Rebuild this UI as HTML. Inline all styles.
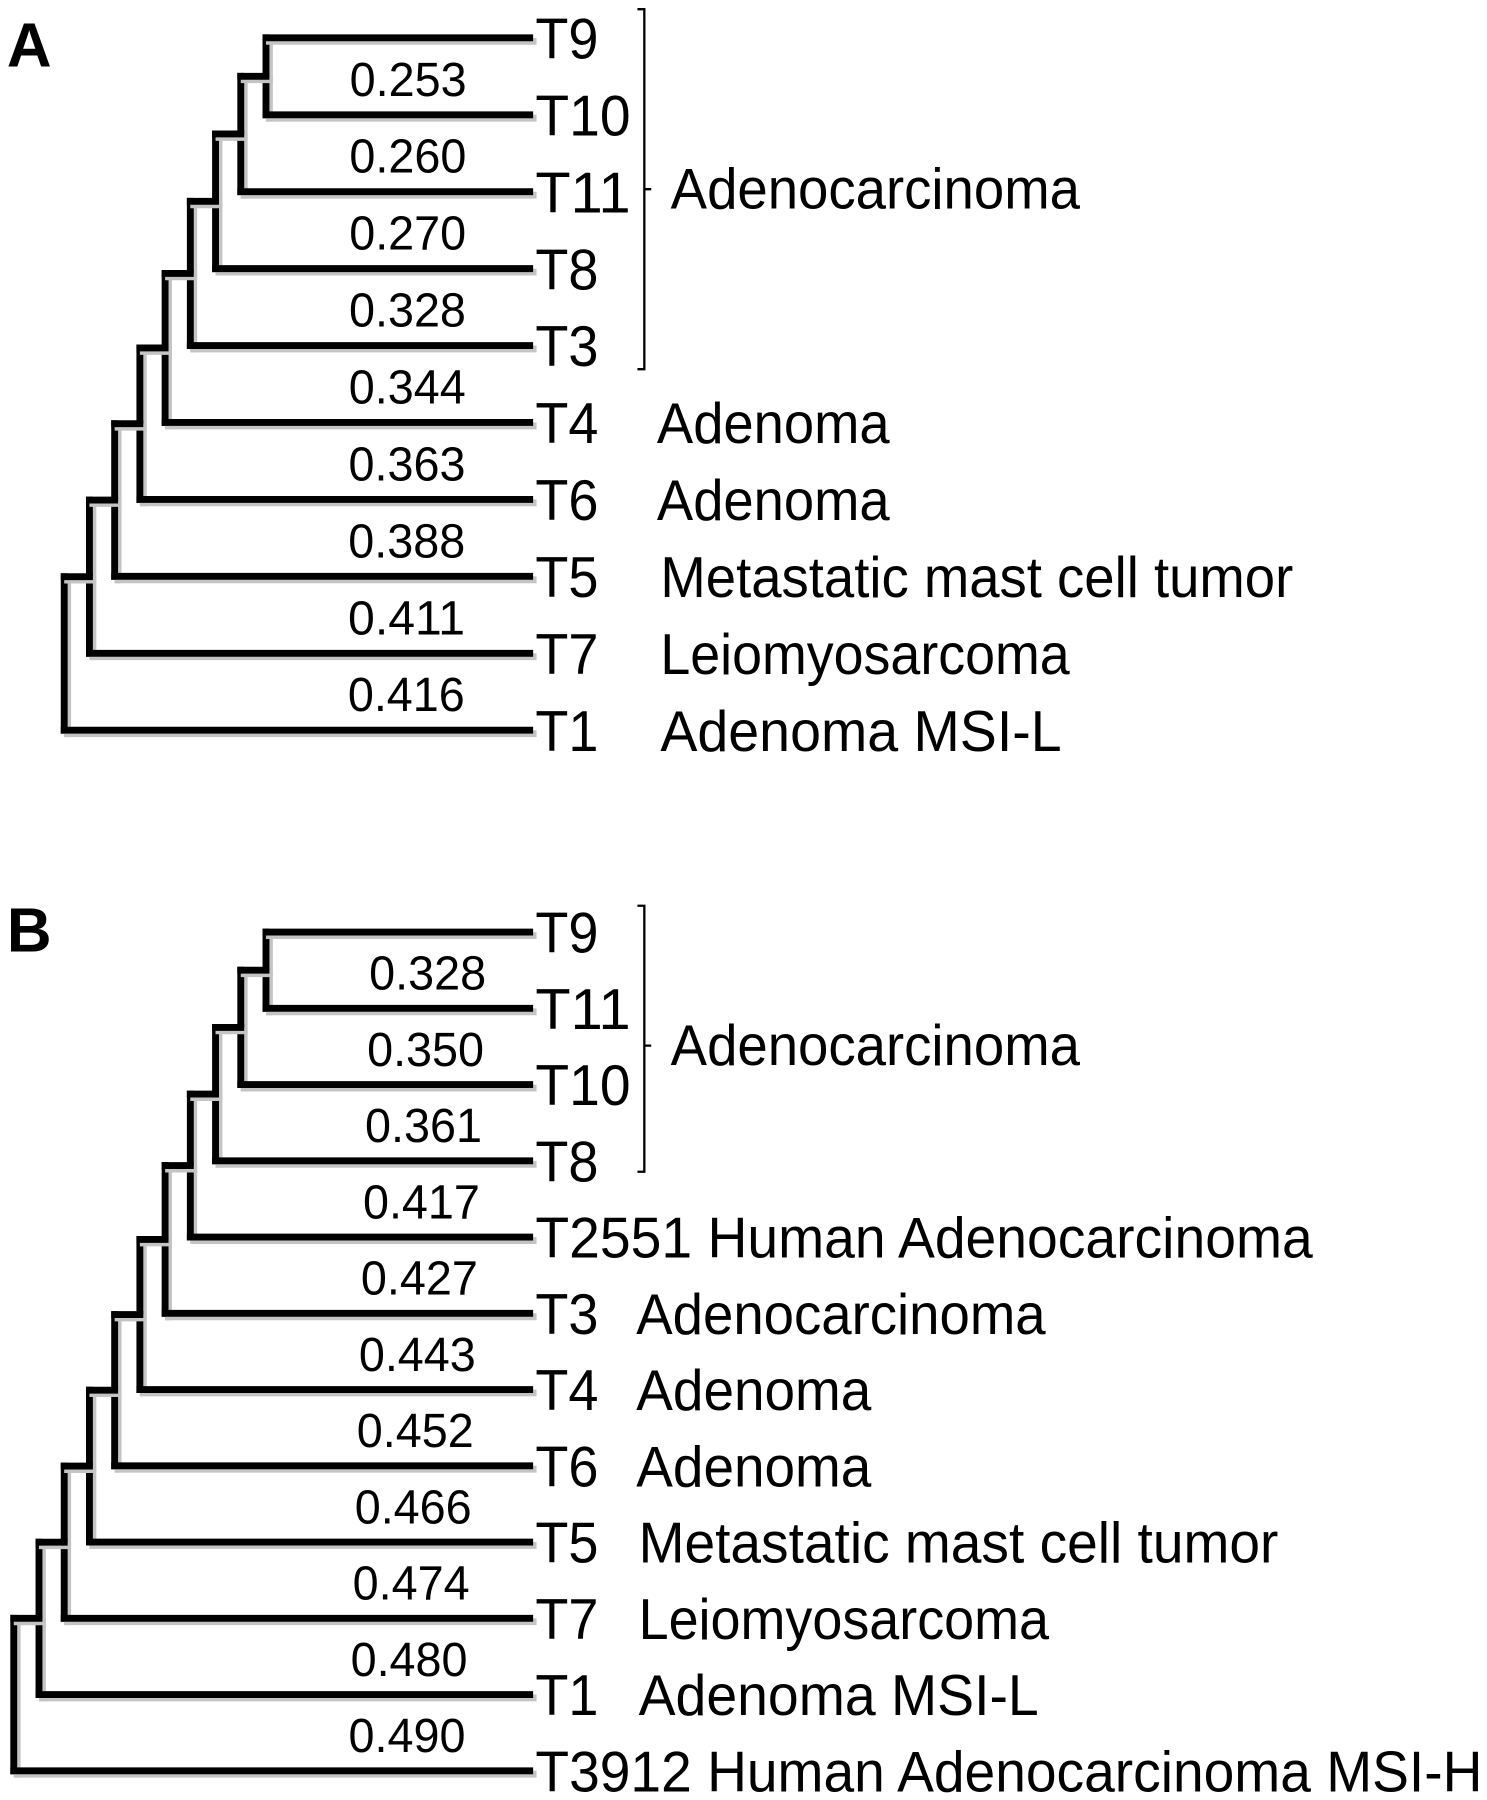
<!DOCTYPE html>
<html><head><meta charset="utf-8"><style>
html,body{margin:0;padding:0;background:#fff;}
svg{display:block;}
text{font-family:"Liberation Sans",sans-serif;fill:#000;}
</style></head><body>
<svg id="fig" width="1487" height="1800" viewBox="0 0 1297 1570" preserveAspectRatio="none" xmlns="http://www.w3.org/2000/svg">
<text x="6" y="58" font-size="54" font-weight="bold">A</text>
<text x="6" y="830" font-size="54" font-weight="bold">B</text>
</svg>
<script>
const leavesA = ["T9","T10","T11","T8","T3","T4","T6","T5","T7","T1"];
const valuesA = ["0.253","0.260","0.270","0.328","0.344","0.363","0.388","0.411","0.416"];
const descA = ["","","","","","Adenoma","Adenoma","Metastatic mast cell tumor","Leiomyosarcoma","Adenoma MSI-L"];
const descWidthA = [0,0,0,0,0,203,203,552,357,350];
const leavesB = ["T9","T11","T10","T8","T2551 Human Adenocarcinoma","T3","T4","T6","T5","T7","T1","T3912 Human Adenocarcinoma MSI-H"];
const valuesB = ["0.328","0.350","0.361","0.417","0.427","0.443","0.452","0.466","0.474","0.480","0.490"];
const descB = ["","","","","","Adenocarcinoma","Adenoma","Adenoma","Metastatic mast cell tumor","Leiomyosarcoma","Adenoma MSI-L",""];
const descWidthB = [0,0,0,0,0,357,205,205,558,358,349,0];

const NS="http://www.w3.org/2000/svg";
const svg=document.getElementById('fig');
function mk(tag,attrs){const e=document.createElementNS(NS,tag);for(const k in attrs)e.setAttribute(k,attrs[k]);svg.appendChild(e);return e;}
function seg(x1,y1,x2,y2,name){
  const s=mk('line',{x1:x1+3,y1:y1+3,x2:x2+3,y2:y2+3,stroke:'#c4c4c4','stroke-width':6,'stroke-linecap':'square'});
  
  
  const l=mk('line',{x1,y1,x2,y2,stroke:'#000','stroke-width':6,'stroke-linecap':'square'});
  
  
}
function drawTree(p,leaves,values,desc,descW,y0,dy,valX,valStep,descX,leafLenW){
  const n=leaves.length, xEnd=462, step=(232-12)/10;
  const ly=i=>y0+i*dy;
  const nx=k=>232-k*step;
  let mids=[];
  for(let k=0;k<n-1;k++){
    const top=k===0?ly(0):mids[k-1];
    const bot=ly(k+1);
    seg(nx(k),top,nx(k),bot,p+'-node-'+k+'-vertical');
    mids.push((top+bot)/2);
    if(k>0) seg(nx(k),mids[k-1],nx(k-1),mids[k-1],p+'-node-'+k+'-link');
  }
  for(let i=0;i<n;i++){
    const sx=i===0?nx(0):nx(i-1);
    seg(sx,ly(i),xEnd,ly(i),p+'-branch-'+leaves[i].split(' ')[0].toLowerCase());
    const w=leafLenW[i]||(leaves[i].length===2?55:83);
    const t=mk('text',{x:467,y:ly(i)+18,'font-size':50,textLength:w,lengthAdjust:'spacingAndGlyphs'});
    t.textContent=leaves[i];
    
    
    if(desc[i]){
      const d=mk('text',{x:descX[i],y:ly(i)+18,'font-size':50,textLength:descW[i],lengthAdjust:'spacingAndGlyphs'});
      d.textContent=desc[i];
      
      
    }
  }
  for(let k=0;k<values.length;k++){
    const v=mk('text',{x:valX-k*valStep-51,y:(ly(k)+ly(k+1))/2+17,'font-size':42,textLength:102,lengthAdjust:'spacingAndGlyphs'});
    v.textContent=values[k];
    
    
  }
}
drawTree('a',leavesA,valuesA,descA,descWidthA,33,67.1,356,0.2,[0,0,0,0,0,573,573,576,576,576],[]);
drawTree('b',leavesB,valuesB,descB,descWidthB,813,66.5,373,1.8,[0,0,0,0,0,555,555,555,557,557,557,0],[0,0,0,0,678,0,0,0,0,0,0,826]);
function bracket(p,x,y1,y2,ym,label,ty){
  const b=mk('path',{d:`M${x-6},${y1} H${x} V${y2} H${x-6} M${x},${ym} H${x+6}`,stroke:'#000','stroke-width':2,fill:'none'});
  
  
  const t=mk('text',{x:585,y:ty,'font-size':50,textLength:357,lengthAdjust:'spacingAndGlyphs'});
  t.textContent=label;
  
  
}
bracket('a',562,8,322,165,'Adenocarcinoma',182);
bracket('b',562,790,1022,912,'Adenocarcinoma',929);
</script>
</body></html>
